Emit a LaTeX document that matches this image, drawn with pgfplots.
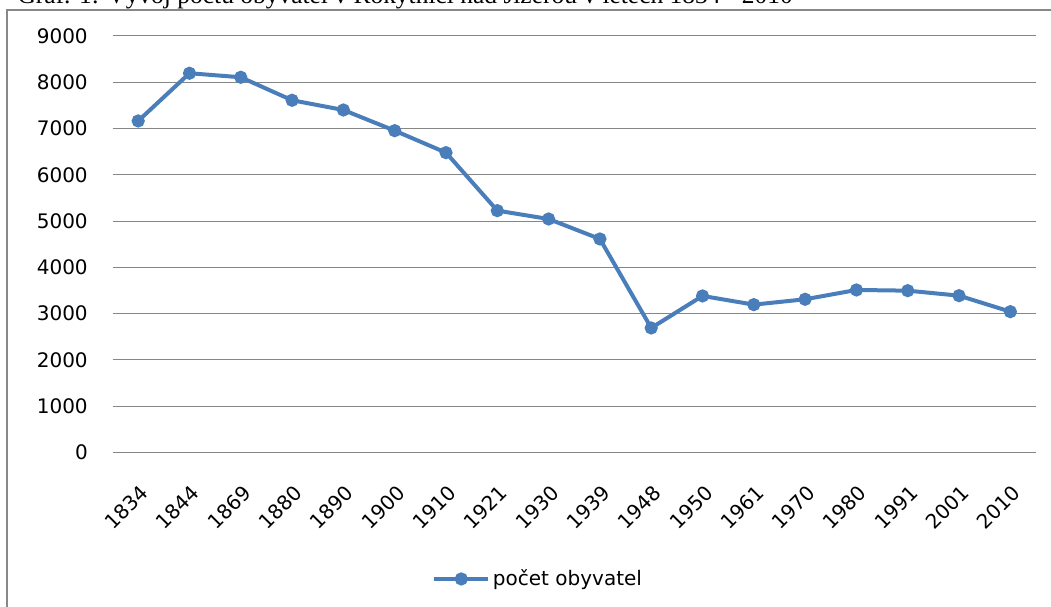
\documentclass[border=0pt]{standalone}
\usepackage{fontspec}
\setmainfont{Liberation Serif}
\newfontfamily\dv{DejaVu Sans}
\usepackage{pgfplots}
\pgfplotsset{compat=1.18}
\definecolor{ser}{HTML}{4A7EBB}
\definecolor{grd}{HTML}{868686}
\definecolor{frm}{HTML}{888888}
\begin{document}
\begin{tikzpicture}
\useasboundingbox (0,0) rectangle (788.25pt,455.25pt);
\clip (0,0) rectangle (788.25pt,455.25pt);
\fill[white] (0,0) rectangle (788.25pt,455.25pt);
\node[anchor=base east, inner sep=0pt, font=\fontsize{19.1pt}{22pt}\selectfont] at (594.75pt,452.25pt) {Graf. 1: Vývoj počtu obyvatel v Rokytnici nad Jizerou v letech 1834 - 2010};
\draw[frm, line width=1.5pt] (5.6pt,-10pt) -- (5.6pt,447.4pt) -- (800pt,447.4pt);
\begin{axis}[
  at={(84.4pt,115.9pt)}, anchor=south west,
  scale only axis, width=692.6pt, height=312.4pt,
  xmin=-0.5, xmax=17.5, ymin=0, ymax=9000,
  axis line style={draw=none}, major tick style={draw=none},
  ymajorgrids, grid style={grd, line width=0.75pt},
  ytick={0,1000,...,9000},
  xtick={0,...,17},
  xticklabels={1834,1844,1869,1880,1890,1900,1910,1921,1930,1939,1948,1950,1961,1970,1980,1991,2001,2010},
  tick label style={font=\dv\fontsize{15pt}{18pt}\selectfont},
  /pgf/number format/.cd, 1000 sep={}, assume math mode=true, /pgfplots/.cd,
  yticklabel style={anchor=east, inner sep=0pt, xshift=-18.4pt},
  xticklabel style={xshift=0.75pt, yshift=-23.5pt, rotate=45, anchor=north east, inner sep=0pt},
  clip=false,
  legend style={at={(0.346,-0.3037)}, anchor=west, draw=none, fill=none, inner sep=0pt,
    font=\dv\fontsize{15pt}{18pt}\selectfont},
  legend image code/.code={\draw[mark repeat=2, mark phase=2, #1] plot coordinates {(0pt,0pt) (20.25pt,0pt) (40.5pt,0pt)};},
]
\addplot[ser, line width=3pt, mark=*, mark size=3.4pt, mark options={solid}] coordinates {
(0,7163) (1,8194) (2,8107) (3,7610) (4,7400) (5,6953) (6,6478) (7,5225) (8,5045) (9,4613)
(10,2690) (11,3382) (12,3194) (13,3310) (14,3511) (15,3496) (16,3388) (17,3042)
};
\addlegendentry{počet obyvatel}
\end{axis}
\end{tikzpicture}
\end{document}
